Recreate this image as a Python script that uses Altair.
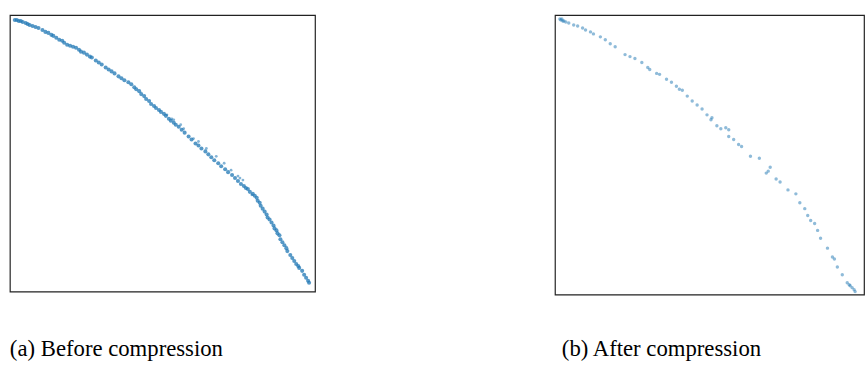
import altair as alt
import pandas as pd

# Left panel ("before compression")
before_x = [5, 7, 9, 11, 13, 16, 18, 20, 23, 26, 29, 33, 36, 39, 42, 44, 47, 50, 53, 55, 58, 61, 64, 67,
            70, 72, 75, 78, 81, 83, 87, 90, 93, 97, 100, 103, 106, 110, 113, 116, 120, 123, 126, 128,
            131, 133, 136, 138, 141, 143, 146, 148, 151, 153, 156, 158, 161, 163, 166, 168, 171, 174,
            177, 181, 184, 188, 191, 194, 198, 201, 204, 207, 211, 214, 218, 221, 225, 228, 231, 234,
            237, 239, 241, 243, 246, 248, 250, 251, 253, 254, 256, 258, 260, 261, 263, 265, 267, 268,
            270, 271, 273, 274, 276, 278, 280, 281, 284, 286, 288, 290, 292, 293, 296, 298, 300, 302, 303]
before_y = [275, 275, 274, 274, 273, 272, 271, 270, 269, 268, 267, 265, 263, 262, 260, 259, 257, 255, 254,
            252, 250, 249, 248, 247, 245, 243, 242, 240, 238, 237, 234, 232, 230, 227, 225, 223, 221, 218,
            216, 214, 212, 210, 207, 205, 203, 200, 198, 195, 193, 190, 188, 186, 184, 182, 180, 178, 175,
            173, 171, 169, 167, 164, 161, 157, 154, 150, 148, 145, 142, 139, 136, 133, 130, 127, 124, 121,
            118, 115, 112, 109, 107, 105, 104, 101, 99, 97, 95, 92, 90, 87, 84, 81, 78, 75, 73, 70, 67, 64,
            62, 59, 57, 53, 50, 47, 44, 41, 37, 34, 31, 28, 26, 24, 21, 17, 14, 11, 9]

# scattered points lying just above the main curve
out_x = [159, 164, 166, 173, 176, 186, 191, 199, 209, 217, 224, 231, 233, 236, 245]
out_y = [179, 175, 174, 169, 165, 155, 152, 145, 137, 130, 123, 117, 115, 113, 98]

# Right panel ("after compression")
after_x = [5, 6, 7, 8, 9, 11, 14, 19, 23, 28, 31, 36, 39, 46, 51, 56, 61, 71, 76, 81, 88, 94, 96, 103,
           106, 113, 118, 123, 126, 129, 134, 139, 144, 149, 154, 158, 159, 164, 168, 173, 176, 176, 181,
           186, 189, 198, 207, 214, 216, 218, 224, 228, 236, 244, 248, 253, 256, 259, 263, 266, 269, 276,
           281, 283, 286, 291, 296, 298, 299, 301, 303, 304]
after_y = [279, 278, 279, 277, 277, 276, 275, 273, 272, 270, 268, 266, 264, 261, 258, 254, 251, 243, 241,
           239, 235, 230, 228, 224, 223, 218, 215, 211, 208, 207, 201, 196, 192, 188, 182, 177, 179, 171,
           168, 169, 167, 160, 157, 152, 150, 140, 138, 123, 125, 129, 117, 114, 106, 102, 93, 87, 80, 75,
           72, 65, 57, 47, 38, 36, 28, 20, 12, 10, 9, 7, 5, 3]

BLUE = "#1f77b4"

df_before = pd.DataFrame({"x": before_x + out_x, "y": before_y + out_y,
                          "kind": ["line"] * len(before_x) + ["out"] * len(out_x)})
df_after = pd.DataFrame({"x": after_x, "y": after_y})

FONT = "Times New Roman, Liberation Serif, serif"

left = alt.Chart(df_before).mark_circle(color=BLUE, stroke=None).encode(
    x=alt.X("x:Q", axis=None, scale=alt.Scale(domain=[0, 309], nice=False, zero=False)),
    y=alt.Y("y:Q", axis=None, scale=alt.Scale(domain=[0, 280], nice=False, zero=False)),
    size=alt.condition("datum.kind == 'line'", alt.value(17), alt.value(8)),
    opacity=alt.condition("datum.kind == 'line'", alt.value(0.75), alt.value(0.55)),
).properties(
    width=309, height=280,
    title=alt.TitleParams("(a) Before compression", orient="bottom", anchor="start",
                          font=FONT, fontSize=23, fontWeight="normal", color="black",
                          offset=65, dx=0, baseline="alphabetic"),
)

right = alt.Chart(df_after).mark_circle(color=BLUE, size=12, opacity=0.5).encode(
    x=alt.X("x:Q", axis=None, scale=alt.Scale(domain=[0, 313], nice=False, zero=False)),
    y=alt.Y("y:Q", axis=None, scale=alt.Scale(domain=[0, 283], nice=False, zero=False)),
).properties(
    width=313, height=283,
    title=alt.TitleParams("(b) After compression", orient="bottom", anchor="start",
                          font=FONT, fontSize=23, fontWeight="normal", color="black",
                          offset=62, dx=7, baseline="alphabetic"),
)

chart = alt.hconcat(left, right, spacing=241).properties(
    padding={"left": 9, "top": 12, "right": 0, "bottom": 0},
    background="white",
).configure_view(stroke="#222222", strokeWidth=1.2)

chart.save("out.html", embed_options={"renderer": "svg", "actions": False})
